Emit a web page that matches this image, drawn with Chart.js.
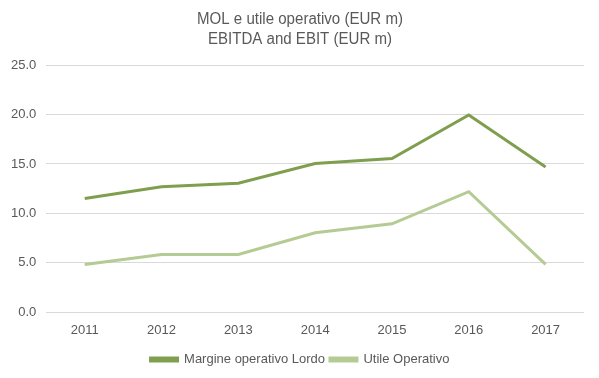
<!DOCTYPE html>
<html><head><meta charset="utf-8">
<script src="https://cdn.jsdelivr.net/npm/chart.js@4/dist/chart.umd.min.js"></script>
<style>html,body{margin:0;padding:0;background:#fff}#wrap{width:599px;height:378px}</style>
</head><body><div id="wrap"><canvas id="c" width="599" height="378"></canvas></div>
<script>
const categories = ["2011","2012","2013","2014","2015","2016","2017"];
const margineLordo = [11.5, 12.7, 13.05, 15.05, 15.55, 19.95, 14.7];
const utileOperativo = [4.85, 5.85, 5.85, 8.05, 8.95, 12.2, 4.85];
const titleLines = ["MOL e utile operativo (EUR m)", "EBITDA and EBIT (EUR m)"];
const seriesNames = ["Margine operativo Lordo", "Utile Operativo"];

const titlePlugin = {
  id: 'narrowTitle',
  afterDraw(chart) {
    const ctx = chart.ctx;
    ctx.save();
    ctx.fillStyle = '#595959';
    ctx.font = '16px "Liberation Sans", Arial, sans-serif';
    ctx.textAlign = 'center';
    ctx.textBaseline = 'middle';
    const cx = 300, ys = [20, 40];
    const w0 = ctx.measureText(titleLines[0]).width;
    const sx = 206 / w0;
    titleLines.forEach((t, i) => {
      ctx.save();
      ctx.translate(cx, ys[i]);
      ctx.scale(sx, 1);
      ctx.fillText(t, 0, 0);
      ctx.restore();
    });
    ctx.restore();
  }
};

new Chart(document.getElementById('c'), {
  type: 'line',
  data: {
    labels: categories,
    datasets: [
      {label: seriesNames[0], data: margineLordo, borderColor: '#7f9f4f', backgroundColor: '#7f9f4f', borderWidth: 3, pointRadius: 0, tension: 0},
      {label: seriesNames[1], data: utileOperativo, borderColor: '#b4cb93', backgroundColor: '#b4cb93', borderWidth: 3, pointRadius: 0, tension: 0}
    ]
  },
  plugins: [titlePlugin],
  options: {
    responsive: false,
    animation: false,
    layout: {padding: {left: 1, right: 0, top: 65, bottom: 2}},
    plugins: {
      title: {display: false},
      legend: {position: 'bottom', labels: {boxWidth: 27, boxHeight: 3, color: '#595959', padding: 5,
        font: {family: '"Liberation Sans", Arial, sans-serif', size: 13}}},
      tooltip: {enabled: false}
    },
    scales: {
      x: {offset: true, grid: {display: false, drawTicks: false}, border: {display: false},
        ticks: {color: '#595959', font: {family: '"Liberation Sans", Arial, sans-serif', size: 13}, padding: 10}},
      y: {min: 0, max: 25, grid: {color: '#d9d9d9', lineWidth: 1, drawTicks: false}, border: {display: false},
        ticks: {stepSize: 5, color: '#595959', padding: 10, font: {family: '"Liberation Sans", Arial, sans-serif', size: 13},
          callback: v => v.toFixed(1)}},
      yPad: {position: 'right', display: true, grid: {display: false, drawTicks: false}, border: {display: false},
        ticks: {display: false}, afterFit: s => { s.width = 15; }}
    }
  }
});
</script></body></html>
